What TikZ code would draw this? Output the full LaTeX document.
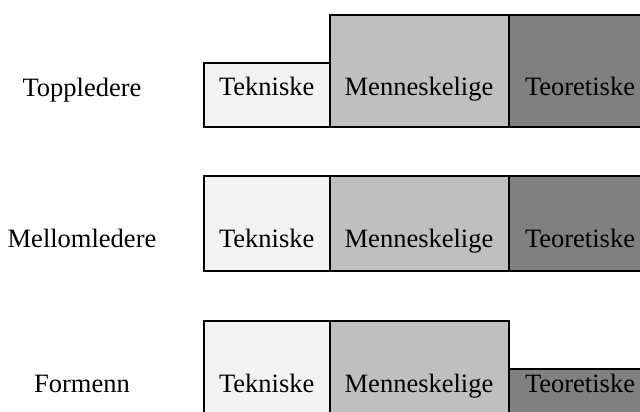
\documentclass[tikz,border=0pt]{standalone}
\usepackage{fontspec}
\setmainfont{Liberation Serif}
\definecolor{ctek}{HTML}{F2F2F2}
\definecolor{cmen}{HTML}{BFBFBF}
\definecolor{cteo}{HTML}{808080}
\begin{document}
\begin{tikzpicture}[x=1pt,y=-1pt,
  box/.style={draw=black,line width=2pt,inner sep=0pt,outer sep=0pt,anchor=north west},
  lbl/.style={anchor=base,inner sep=0pt,font=\fontsize{26.5}{30}\selectfont}]
\clip (0,0) rectangle (640,412);
% Row 1
\node[box,fill=ctek,minimum width=126.5pt,minimum height=64.3pt] (t1) at (203.5,62.7) {};
\node[box,fill=cmen,minimum width=179pt,minimum height=112pt] (m1) at (330,15) {};
\node[box,fill=cteo,minimum width=142pt,minimum height=112pt] (o1) at (509,15) {};
% Row 2
\node[box,fill=ctek,minimum width=126.5pt,minimum height=95pt] (t2) at (203.5,175.7) {};
\node[box,fill=cmen,minimum width=179pt,minimum height=95pt] (m2) at (330,175.7) {};
\node[box,fill=cteo,minimum width=142pt,minimum height=95pt] (o2) at (509,175.7) {};
% Row 3
\node[box,fill=ctek,minimum width=126.5pt,minimum height=110pt] (t3) at (203.5,321) {};
\node[box,fill=cmen,minimum width=179pt,minimum height=110pt] (m3) at (330,321) {};
\node[box,fill=cteo,minimum width=142pt,minimum height=62pt] (o3) at (509,368.7) {};
% Texts
\node[lbl] (l1) at (82,96) {Toppledere};
\node[lbl] (tt1) at (266.7,95.5) {Tekniske};
\node[lbl] (tm1) at (419,95.5) {Menneskelige};
\node[lbl] (to1) at (580,95.5) {Teoretiske};
\node[lbl] (l2) at (82,247) {Mellomledere};
\node[lbl] (tt2) at (266.7,247.5) {Tekniske};
\node[lbl] (tm2) at (419,247.5) {Menneskelige};
\node[lbl] (to2) at (580,247.5) {Teoretiske};
\node[lbl] (l3) at (82,392) {Formenn};
\node[lbl] (tt3) at (266.7,392.5) {Tekniske};
\node[lbl] (tm3) at (419,392.5) {Menneskelige};
\node[lbl] (to3) at (580,392.5) {Teoretiske};
\end{tikzpicture}
\end{document}
